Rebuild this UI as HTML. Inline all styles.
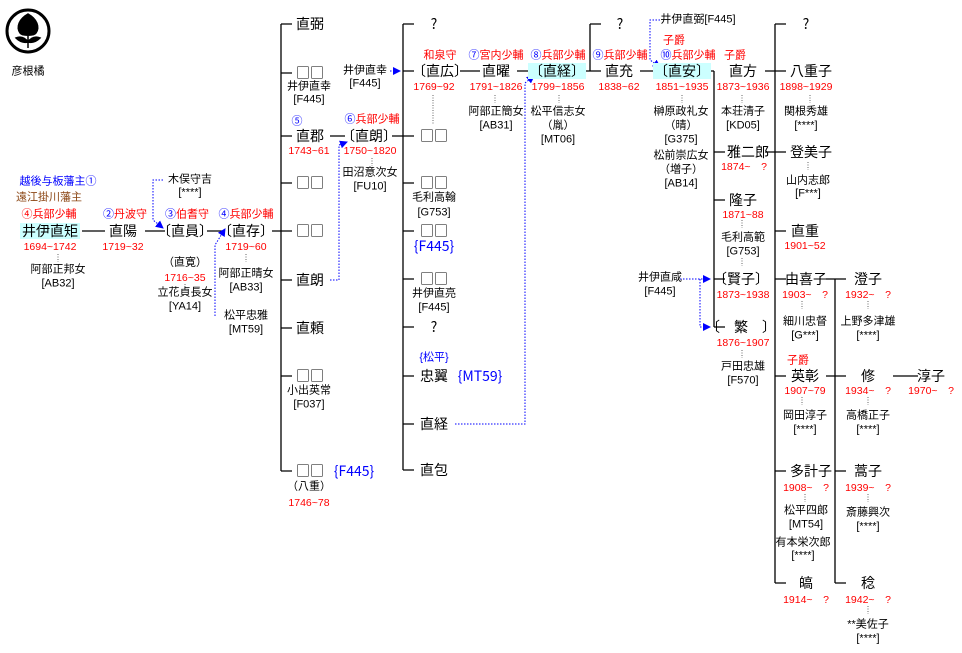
<!DOCTYPE html>
<html><head><meta charset="utf-8"><style>
body{margin:0;width:962px;height:653px;background:#fff;position:relative;overflow:hidden;font-family:"Liberation Sans","Noto Sans CJK JP",sans-serif;color:#000}
.t{position:absolute;transform:translate(-50%,-50%);white-space:nowrap;font-size:11px;line-height:1}
.n{font-size:14px;font-family:"Noto Sans CJK JP","Liberation Sans",sans-serif}
.r{color:#f00;font-size:10.5px}
.b{color:#00f}
.br{color:#8b4513}
.h{background:#cff}
svg{position:absolute;left:0;top:0}
</style></head><body>
<svg width="962" height="653">
<defs><marker id="a" markerWidth="8" markerHeight="8" refX="7" refY="4" orient="auto" markerUnits="userSpaceOnUse"><path d="M0,0L8,4L0,8z" fill="#00f"/></marker></defs>
<g stroke="#000" stroke-width="1.3" fill="none">
<circle cx="28" cy="31" r="21" stroke-width="3"/>
<path d="M82 231H105M145 231H165M207 231H222M272 231H281M281 24V471M281 24H292M281 73H292M281 136H292M281 183H292M281 231H292M281 280H292M281 328H292M281 376H292M281 471H292"/>
<path d="M330 136H345M392 136H403M403 24V470M403 24H414M403 71H414M403 136H414M403 183H414M403 231H414M403 279H414M403 327H414M403 376H414M403 424H414M403 470H414"/>
<path d="M460 71H480M517 71H535M578 71H590M590 24V71M590 24H601M590 71H601M640 71H660M704 71H714M714 71V327M714 152H725M714 200H725M714 279H725M714 327H725"/>
<path d="M765 71H775M765 152H775M775 24V583M775 24H786M775 71H786M775 152H786M775 231H786M775 279H786M775 376H786M775 471H786M775 583H786"/>
<path d="M826 279H835M826 376H835M835 279V583M835 279H846M835 376H846M835 471H846M835 583H846M893 376H918"/>
</g>
<path d="M28 14c-9 5-12 13-8 19 2 3 14 3 16 0 4-6 1-14-8-19zM16 38c5-2 9 0 12 4 3-4 7-6 12-4-4 4-8 5-12 4-4 1-8 0-12-4zM28 34v14" fill="#000" stroke="#000" stroke-width="1.5"/>
<g stroke="#00f" stroke-dasharray="1.5,1.5" fill="none" stroke-width="1">
<path d="M163 180H153V220L163 228" marker-end="url(#a)"/>
<path d="M215 316V245L225 229" marker-end="url(#a)"/>
<path d="M330 280H339V145L347 142" marker-end="url(#a)"/>
<path d="M390 71H400" marker-end="url(#a)"/>
<path d="M455 424H525V83L534 76" marker-end="url(#a)"/>
<path d="M660 20H650V60L660 67" marker-end="url(#a)"/>
<path d="M680 279H710" marker-end="url(#a)"/>
<path d="M700 279V327H710" marker-end="url(#a)"/>
</g>
<g stroke="#666" stroke-dasharray="1,1.5" stroke-width="1">
<path d="M58 254V262M185 284V290M246 254V262M372 158V166M433 95V125M495 95V103M559 95V103M682 95V103M742 95V103M810 95V103M808 162V170M742 220V228M742 258V266M742 350V358M802 301V309M868 301V309M802 397V405M868 397V405M805 494V502M868 494V502M868 606V614"/>
</g>
</svg>
<div class="t" style="left:28px;top:72px;font-size:11px">彦根橘</div>
<div class="t b" style="left:58px;top:182px">越後与板藩主①</div>
<div class="t br" style="left:49px;top:198px">遠江掛川藩主</div>
<div class="t r" style="left:49px;top:215px;font-size:11px">④兵部少輔</div>
<div class="t n h" style="left:50px;top:231px;padding:1px 2px">井伊直矩</div>
<div class="t r" style="left:50px;top:247px">1694~1742</div>
<div class="t" style="left:58px;top:270px">阿部正邦女</div>
<div class="t" style="left:58px;top:284px">[AB32]</div>
<div class="t r" style="left:125px;top:215px;font-size:11px"><span class="b">②</span>丹波守</div>
<div class="t n" style="left:123px;top:231px">直陽</div>
<div class="t r" style="left:123px;top:247px">1719~32</div>
<div class="t" style="left:190px;top:180px">木俣守吉</div>
<div class="t" style="left:190px;top:193px">[****]</div>
<div class="t r" style="left:187px;top:215px;font-size:11px"><span class="b">③</span>伯耆守</div>
<div class="t n" style="left:185px;top:231px">〔直員〕</div>
<div class="t" style="left:185px;top:263px">（直寛）</div>
<div class="t r" style="left:185px;top:278px">1716~35</div>
<div class="t" style="left:185px;top:293px">立花貞長女</div>
<div class="t" style="left:185px;top:307px">[YA14]</div>
<div class="t r" style="left:246px;top:215px;font-size:11px"><span class="b">④</span>兵部少輔</div>
<div class="t n" style="left:246px;top:231px">〔直存〕</div>
<div class="t r" style="left:246px;top:247px">1719~60</div>
<div class="t" style="left:246px;top:274px">阿部正晴女</div>
<div class="t" style="left:246px;top:288px">[AB33]</div>
<div class="t" style="left:246px;top:316px">松平忠雅</div>
<div class="t" style="left:246px;top:330px">[MT59]</div>
<div class="t n" style="left:310px;top:24px">直弼</div>
<div class="t n" style="left:310px;top:73px">□□</div>
<div class="t" style="left:309px;top:87px">井伊直幸</div>
<div class="t" style="left:309px;top:100px">[F445]</div>
<div class="t b" style="left:297px;top:122px">⑤</div>
<div class="t n" style="left:310px;top:136px">直郡</div>
<div class="t r" style="left:309px;top:151px">1743~61</div>
<div class="t n" style="left:310px;top:183px">□□</div>
<div class="t n" style="left:310px;top:231px">□□</div>
<div class="t n" style="left:310px;top:280px">直朗</div>
<div class="t n" style="left:310px;top:328px">直頼</div>
<div class="t n" style="left:310px;top:376px">□□</div>
<div class="t" style="left:309px;top:391px">小出英常</div>
<div class="t" style="left:309px;top:405px">[F037]</div>
<div class="t n" style="left:310px;top:471px">□□</div>
<div class="t b n" style="left:354px;top:471px">{F445}</div>
<div class="t" style="left:309px;top:487px">（八重）</div>
<div class="t r" style="left:309px;top:503px">1746~78</div>
<div class="t" style="left:365px;top:71px">井伊直幸</div>
<div class="t" style="left:365px;top:84px">[F445]</div>
<div class="t r" style="left:372px;top:120px;font-size:11px"><span class="b">⑥</span>兵部少輔</div>
<div class="t n" style="left:369px;top:136px">〔直朗〕</div>
<div class="t r" style="left:370px;top:151px">1750~1820</div>
<div class="t" style="left:370px;top:173px">田沼意次女</div>
<div class="t" style="left:370px;top:187px">[FU10]</div>
<div class="t n" style="left:434px;top:24px">?</div>
<div class="t r" style="left:440px;top:56px;font-size:11px">和泉守</div>
<div class="t n" style="left:440px;top:71px">〔直広〕</div>
<div class="t r" style="left:434px;top:87px">1769~92</div>
<div class="t n" style="left:434px;top:136px">□□</div>
<div class="t n" style="left:434px;top:183px">□□</div>
<div class="t" style="left:434px;top:198px">毛利高翰</div>
<div class="t" style="left:434px;top:213px">[G753]</div>
<div class="t n" style="left:434px;top:231px">□□</div>
<div class="t b n" style="left:434px;top:246px">{F445}</div>
<div class="t n" style="left:434px;top:279px">□□</div>
<div class="t" style="left:434px;top:294px">井伊直亮</div>
<div class="t" style="left:434px;top:308px">[F445]</div>
<div class="t n" style="left:434px;top:327px">?</div>
<div class="t b" style="left:434px;top:358px">{松平}</div>
<div class="t n" style="left:434px;top:376px">忠翼</div>
<div class="t b n" style="left:480px;top:376px">{MT59}</div>
<div class="t n" style="left:434px;top:424px">直経</div>
<div class="t n" style="left:434px;top:470px">直包</div>
<div class="t r" style="left:496px;top:56px;font-size:11px"><span class="b">⑦</span>宮内少輔</div>
<div class="t n" style="left:496px;top:71px">直曜</div>
<div class="t r" style="left:496px;top:87px">1791~1826</div>
<div class="t" style="left:496px;top:112px">阿部正簡女</div>
<div class="t" style="left:496px;top:126px">[AB31]</div>
<div class="t r" style="left:558px;top:56px;font-size:11px"><span class="b">⑧</span>兵部少輔</div>
<div class="t n h" style="left:557px;top:71px;padding:1px 1px">〔直経〕</div>
<div class="t r" style="left:558px;top:87px">1799~1856</div>
<div class="t" style="left:558px;top:112px">松平信志女</div>
<div class="t" style="left:558px;top:126px">（胤）</div>
<div class="t" style="left:558px;top:140px">[MT06]</div>
<div class="t n" style="left:620px;top:24px">?</div>
<div class="t r" style="left:620px;top:56px;font-size:11px"><span class="b">⑨</span>兵部少輔</div>
<div class="t n" style="left:619px;top:71px">直充</div>
<div class="t r" style="left:619px;top:87px">1838~62</div>
<div class="t" style="left:698px;top:20px">井伊直弼[F445]</div>
<div class="t r" style="left:674px;top:41px;font-size:11px">子爵</div>
<div class="t r" style="left:688px;top:56px;font-size:11px"><span class="b">⑩</span>兵部少輔</div>
<div class="t n h" style="left:682px;top:71px;padding:1px 1px">〔直安〕</div>
<div class="t r" style="left:682px;top:87px">1851~1935</div>
<div class="t" style="left:681px;top:112px">榊原政礼女</div>
<div class="t" style="left:681px;top:126px">（晴）</div>
<div class="t" style="left:681px;top:140px">[G375]</div>
<div class="t" style="left:681px;top:156px">松前崇広女</div>
<div class="t" style="left:681px;top:170px">（増子）</div>
<div class="t" style="left:681px;top:184px">[AB14]</div>
<div class="t" style="left:660px;top:278px">井伊直咸</div>
<div class="t" style="left:660px;top:292px">[F445]</div>
<div class="t r" style="left:735px;top:56px;font-size:11px">子爵</div>
<div class="t n" style="left:743px;top:71px">直方</div>
<div class="t r" style="left:743px;top:87px">1873~1936</div>
<div class="t" style="left:743px;top:112px">本荘清子</div>
<div class="t" style="left:743px;top:126px">[KD05]</div>
<div class="t n" style="left:748px;top:152px">雅二郎</div>
<div class="t r" style="left:744px;top:167px">1874~　?</div>
<div class="t n" style="left:743px;top:200px">隆子</div>
<div class="t r" style="left:743px;top:215px">1871~88</div>
<div class="t" style="left:743px;top:238px">毛利高範</div>
<div class="t" style="left:743px;top:252px">[G753]</div>
<div class="t n" style="left:741px;top:279px">〔賢子〕</div>
<div class="t r" style="left:743px;top:295px">1873~1938</div>
<div class="t n" style="left:741px;top:327px">〔　繁　〕</div>
<div class="t r" style="left:743px;top:343px">1876~1907</div>
<div class="t" style="left:743px;top:367px">戸田忠雄</div>
<div class="t" style="left:743px;top:381px">[F570]</div>
<div class="t n" style="left:806px;top:24px">?</div>
<div class="t n" style="left:811px;top:71px">八重子</div>
<div class="t r" style="left:806px;top:87px">1898~1929</div>
<div class="t" style="left:806px;top:112px">関根秀雄</div>
<div class="t" style="left:806px;top:126px">[****]</div>
<div class="t n" style="left:811px;top:152px">登美子</div>
<div class="t" style="left:808px;top:181px">山内志郎</div>
<div class="t" style="left:808px;top:194px">[F***]</div>
<div class="t n" style="left:805px;top:231px">直重</div>
<div class="t r" style="left:805px;top:246px">1901~52</div>
<div class="t n" style="left:806px;top:279px">由喜子</div>
<div class="t r" style="left:805px;top:295px">1903~　?</div>
<div class="t" style="left:805px;top:322px">細川忠督</div>
<div class="t" style="left:805px;top:336px">[G***]</div>
<div class="t r" style="left:798px;top:361px;font-size:11px">子爵</div>
<div class="t n" style="left:805px;top:376px">英彰</div>
<div class="t r" style="left:805px;top:391px">1907~79</div>
<div class="t" style="left:805px;top:416px">岡田淳子</div>
<div class="t" style="left:805px;top:430px">[****]</div>
<div class="t n" style="left:811px;top:471px">多計子</div>
<div class="t r" style="left:806px;top:488px">1908~　?</div>
<div class="t" style="left:806px;top:511px">松平四郎</div>
<div class="t" style="left:806px;top:525px">[MT54]</div>
<div class="t" style="left:803px;top:543px">有本栄次郎</div>
<div class="t" style="left:803px;top:556px">[****]</div>
<div class="t n" style="left:806px;top:583px">皜</div>
<div class="t r" style="left:806px;top:600px">1914~　?</div>
<div class="t n" style="left:868px;top:279px">澄子</div>
<div class="t r" style="left:868px;top:295px">1932~　?</div>
<div class="t" style="left:868px;top:322px">上野多津雄</div>
<div class="t" style="left:868px;top:336px">[****]</div>
<div class="t n" style="left:868px;top:376px">修</div>
<div class="t r" style="left:868px;top:391px">1934~　?</div>
<div class="t" style="left:868px;top:416px">高橋正子</div>
<div class="t" style="left:868px;top:430px">[****]</div>
<div class="t n" style="left:931px;top:376px">淳子</div>
<div class="t r" style="left:931px;top:391px">1970~　?</div>
<div class="t n" style="left:868px;top:471px">蒿子</div>
<div class="t r" style="left:868px;top:488px">1939~　?</div>
<div class="t" style="left:868px;top:513px">斎藤興次</div>
<div class="t" style="left:868px;top:527px">[****]</div>
<div class="t n" style="left:868px;top:583px">稔</div>
<div class="t r" style="left:868px;top:600px">1942~　?</div>
<div class="t" style="left:868px;top:625px">**美佐子</div>
<div class="t" style="left:868px;top:639px">[****]</div>
</body></html>
